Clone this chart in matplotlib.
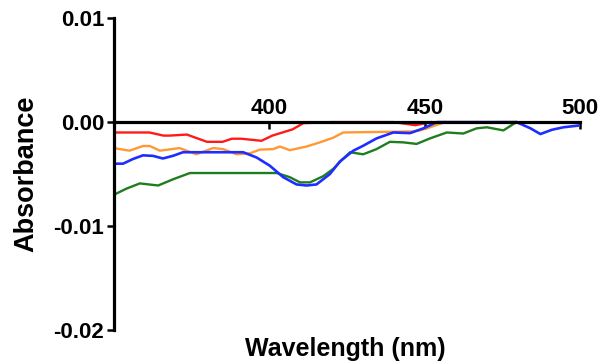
import matplotlib.pyplot as plt
import matplotlib.ticker as mticker

plt.rcParams['font.family'] = ['Liberation Sans', 'DejaVu Sans']
plt.rcParams['font.weight'] = 'bold'

# spectra (wavelength in nm, absorbance)
red_x = [350, 361.5, 366, 368, 373.5, 380, 385, 388, 391, 397.5, 401, 407.5, 411, 420, 440, 447, 452]
red_y = [-0.0010, -0.0010, -0.0013, -0.0013, -0.0012, -0.0019, -0.0019, -0.0016, -0.0016,
         -0.0018, -0.0013, -0.0007, -0.0001, 0.0, 0.0, -0.0003, 0.0]

orange_x = [350, 355.1, 359.4, 361.6, 364.8, 371.2, 376.6, 381.9, 385.2, 389.5, 393.8, 397,
            401.3, 403.4, 406.6, 412, 416.3, 420.6, 423.8, 446, 448.5, 451.7, 456.5]
orange_y = [-0.0025, -0.00275, -0.0023, -0.0023, -0.00275, -0.0025, -0.0031, -0.0025, -0.0026,
            -0.0031, -0.0030, -0.00265, -0.0026, -0.00235, -0.0027, -0.00235, -0.00195, -0.0015,
            -0.0010, -0.0009, -0.0008, -0.0005, 0.0]

blue_x = [350, 353, 356.2, 359.4, 362.6, 365.8, 369, 372.3, 391.6, 395.9, 400.2, 404.5, 408.8,
          412, 415.2, 419.5, 422.7, 427, 430.2, 434.5, 439.9, 445.3, 449.6, 453.9, 465, 479.5,
          484, 487.2, 490.9, 494.6, 499, 500]
blue_y = [-0.0040, -0.0040, -0.00355, -0.0032, -0.00325, -0.0035, -0.00325, -0.0029, -0.0029,
          -0.0034, -0.0042, -0.0053, -0.0060, -0.0061, -0.0060, -0.0050, -0.0038, -0.00276,
          -0.00228, -0.00157, -0.0010, -0.00106, -0.0006, 0.0, 0.0, 0.0,
          -0.0006, -0.00115, -0.00074, -0.0005, -0.00035, -0.0003]

green_x = [350, 354.1, 358.4, 364.3, 369.1, 374.5, 402.4, 406.6, 409.9, 413.1, 417.4, 420.6,
           423.5, 426, 430.2, 434.5, 438.8, 443.1, 447.4, 451.7, 457.1, 462.4, 466.7, 470,
           475.3, 479.5]
green_y = [-0.0070, -0.0064, -0.0059, -0.0061, -0.0055, -0.0049, -0.0049, -0.0053, -0.0058,
           -0.0058, -0.0052, -0.0045, -0.0036, -0.0029, -0.0031, -0.0026, -0.0019, -0.00195,
           -0.0021, -0.00157, -0.0010, -0.0011, -0.0006, -0.0005, -0.0008, 0.0]

x_ticks = [400, 450, 500]
y_ticks = [-0.02, -0.01, 0.00, 0.01]

fig = plt.figure(figsize=(6.05, 3.63), dpi=100)
ax = fig.add_axes([0.188, 0.091, 0.771, 0.859])

ax.plot(red_x, red_y, color='#ff1a1a', lw=1.7)
ax.plot(orange_x, orange_y, color='#ff9933', lw=1.7)
ax.plot(green_x, green_y, color='#1e7d1e', lw=1.7)
ax.plot(blue_x, blue_y, color='#1f2eff', lw=1.9)

ax.set_xlim(350, 500)
ax.set_ylim(-0.02, 0.01)
ax.set_xticks(x_ticks)
ax.set_yticks(y_ticks)
ax.yaxis.set_major_formatter(mticker.FormatStrFormatter('%.2f'))

# x axis sits on zero, labels above it
ax.spines['bottom'].set_position(('data', 0))
ax.spines['top'].set_visible(False)
ax.spines['right'].set_visible(False)
ax.spines['bottom'].set_linewidth(2.3)
ax.spines['left'].set_linewidth(2.3)
ax.spines['bottom'].set_zorder(5)

ax.tick_params(axis='x', direction='out', length=5, width=1.8, pad=-22, labelsize=16)
ax.tick_params(axis='y', direction='out', length=5, width=1.8, pad=2, labelsize=16)

ax.set_ylabel('Absorbance', fontsize=19.5, fontweight='bold', labelpad=10)
ax.set_xlabel('Wavelength (nm)', fontsize=18, fontweight='bold')
ax.xaxis.set_label_coords(0.497, -0.022)

fig.savefig('out.png', dpi=100)
